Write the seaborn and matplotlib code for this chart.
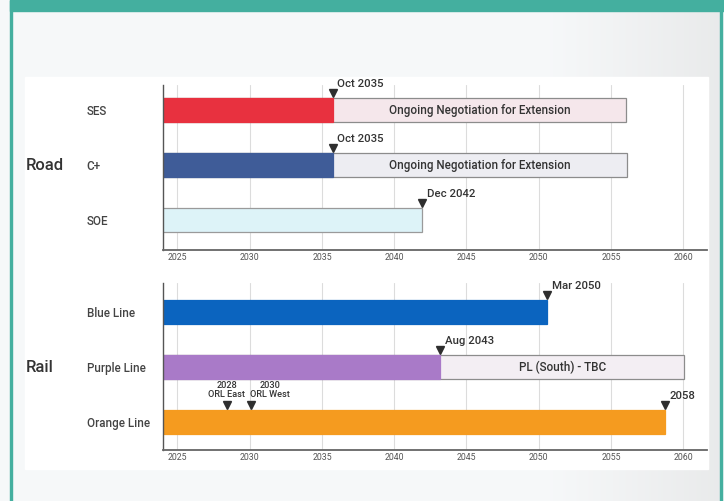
import numpy as np
import pandas as pd
import matplotlib
matplotlib.use("Agg")
import matplotlib.pyplot as plt
import matplotlib.transforms as mtransforms
from matplotlib.patches import Rectangle
import seaborn as sns

sns.set_theme(style="white")
plt.rcParams["font.family"] = ["Roboto", "DejaVu Sans"]

# ---------------- data ----------------
road_cats = ["SES", "C+", "SOE"]
road_end = [2035.75, 2035.75, 2041.95]
road_ext_end = [2056.05, 2056.1, np.nan]
road_ext_text = ["Ongoing Negotiation for Extension", "Ongoing Negotiation for Extension", ""]
road_labels = ["Oct 2035", "Oct 2035", "Dec 2042"]
road_colors = ["#E8313F", "#3F5C98", "#DDF3F8"]
road_ext_colors = ["#F5E7EB", "#EDEDF2", None]
road_edges = [None, None, "#9A9A9A"]

rail_cats = ["Blue Line", "Purple Line", "Orange Line"]
rail_end = [2050.6, 2043.2, 2058.75]
rail_ext_end = [np.nan, 2060.05, np.nan]
rail_ext_text = ["", "PL (South) - TBC", ""]
rail_labels = ["Mar 2050", "Aug 2043", "2058"]
rail_colors = ["#0B64BF", "#A97AC8", "#F59B1F"]
rail_ext_colors = [None, "#F3EEF3", None]
rail_edges = [None, None, None]

orl_years = [2028.4, 2030.1]
orl_labels = ["2028\nORL East", "2030\nORL West"]
orl_label_shift = [0, 13.5]  # points, horizontal shift of the label text

xticks = [2025, 2030, 2035, 2040, 2045, 2050, 2055, 2060]
xlim = (2024.0, 2061.65)

W, H = 724, 501
fig = plt.figure(figsize=(W / 100, H / 100), dpi=100)
fig.patch.set_facecolor("#F6F8F9")

# background gradient (photo-like)
bg = fig.add_axes([12 / W, 0, (720 - 12) / W, 1 - 11 / H], zorder=-10)
grad = np.linspace(0, 1, 300)
grad = np.clip((grad - 0.75) / 0.25, 0, 1)
c0 = np.array([0.968, 0.975, 0.980])
c1 = np.array([0.915, 0.920, 0.922])
img = c0[None, None, :] * (1 - grad[None, :, None]) + c1[None, None, :] * grad[None, :, None]
bg.imshow(np.repeat(img, 2, axis=0), aspect="auto", extent=(0, 1, 0, 1))
bg.axis("off")

teal = "#44AF9F"
fig.patches.append(Rectangle((10 / W, 1 - 11 / H), 1 - 10 / W, 11 / H, transform=fig.transFigure,
                             color=teal, zorder=5))
fig.patches.append(Rectangle((10 / W, 0), 2.5 / W, 1, transform=fig.transFigure, color=teal, zorder=5))
fig.patches.append(Rectangle((719.5 / W, 0), 2.5 / W, 1, transform=fig.transFigure, color=teal, zorder=5))
fig.patches.append(Rectangle((25 / W, 1 - 469 / H), (708 - 25) / W, (469 - 77) / H,
                             transform=fig.transFigure, color="white", zorder=-5))

text_dark = "#333333"


def draw_panel(ax, cats, end, ext_end, ext_text, labels, colors, ext_colors, edges, ylim):
    df = pd.DataFrame({"cat": cats, "end": end, "ext": ext_end})
    ext_df = df.dropna(subset=["ext"])
    if len(ext_df):
        pal_ext = {c: col for c, col in zip(cats, ext_colors) if col}
        sns.barplot(data=ext_df, x="ext", y="cat", hue="cat", order=cats,
                    hue_order=list(ext_df["cat"]), palette=pal_ext, width=0.44,
                    edgecolor="#8C8C8C", linewidth=0.9, errorbar=None, saturation=1,
                    legend=False, orient="h", ax=ax)
    n0 = len(ax.patches)
    sns.barplot(data=df, x="end", y="cat", hue="cat", order=cats, hue_order=cats,
                palette=dict(zip(cats, colors)), width=0.44, linewidth=0.9, saturation=1,
                errorbar=None, legend=False, orient="h", ax=ax)
    for p in ax.patches[n0:]:
        idx = int(round(p.get_y() + p.get_height() / 2))
        p.set_edgecolor(edges[idx] if edges[idx] else p.get_facecolor())

    ax.set_xlim(*xlim)
    ax.set_ylim(*ylim)
    ax.set_xticks(xticks)
    ax.set_xticklabels([str(x) for x in xticks], fontsize=6.3, color="#555555")
    ax.set_yticks(range(len(cats)))
    ax.set_yticklabels(cats, ha="left", fontsize=8.4, color="#444444", fontweight="medium")
    ax.tick_params(axis="y", length=0, pad=55)
    ax.tick_params(axis="x", length=0, pad=2.5)
    ax.set_xlabel("")
    ax.set_ylabel("")
    ax.grid(axis="x", color="#DCDCDC", lw=0.8)
    ax.grid(axis="y", visible=False)
    ax.set_axisbelow(True)
    ax.set_facecolor("white")
    for s in ["top", "right"]:
        ax.spines[s].set_visible(False)
    ax.spines["left"].set_color("#555555")
    ax.spines["left"].set_linewidth(1.0)
    ax.spines["bottom"].set_color("#666666")
    ax.spines["bottom"].set_linewidth(1.3)

    mtrans = mtransforms.offset_copy(ax.transData, fig=fig, x=0, y=3.2, units="points")
    for i, (e, lab) in enumerate(zip(end, labels)):
        top = i - 0.22
        ax.plot([e], [top], marker="v", ms=6.3, color="#2E2E2E", transform=mtrans,
                clip_on=False, zorder=6)
        ax.annotate(lab, xy=(e, top), xytext=(3.3, 8), textcoords="offset points",
                    ha="left", va="baseline", fontsize=8.2, color=text_dark,
                    fontweight="medium", annotation_clip=False)
        if not np.isnan(ext_end[i]) and ext_text[i]:
            ax.text((e + ext_end[i]) / 2, i, ext_text[i], ha="center", va="center",
                    fontsize=8.4, color=text_dark, fontweight="medium")


ax_road = fig.add_axes([163 / W, 1 - 250 / H, 544 / W, 165 / H])
draw_panel(ax_road, road_cats, road_end, road_ext_end, road_ext_text, road_labels,
           road_colors, road_ext_colors, road_edges, (2.545, -0.455))

ax_rail = fig.add_axes([163 / W, 1 - 450 / H, 544 / W, 167 / H])
draw_panel(ax_rail, rail_cats, rail_end, rail_ext_end, rail_ext_text, rail_labels,
           rail_colors, rail_ext_colors, rail_edges, (2.51, -0.527))

# Orange Line milestones
orange_idx = 2
mtrans = mtransforms.offset_copy(ax_rail.transData, fig=fig, x=0, y=3.2, units="points")
for yr, lab, dx in zip(orl_years, orl_labels, orl_label_shift):
    top = orange_idx - 0.22
    ax_rail.plot([yr], [top], marker="v", ms=6.3, color="#2E2E2E", transform=mtrans,
                 clip_on=False, zorder=6)
    ax_rail.annotate(lab, xy=(yr, top), xytext=(dx, 7.5), textcoords="offset points",
                     ha="center", va="bottom", fontsize=6.6, color=text_dark,
                     fontweight="medium", linespacing=1.1)

fig.text(26 / W, 1 - 165 / H, "Road", ha="left", va="center", fontsize=12,
         color=text_dark, fontweight="medium")
fig.text(26 / W, 1 - 367 / H, "Rail", ha="left", va="center", fontsize=12,
         color=text_dark, fontweight="medium")

fig.savefig("out.png", dpi=100, facecolor=fig.get_facecolor())
